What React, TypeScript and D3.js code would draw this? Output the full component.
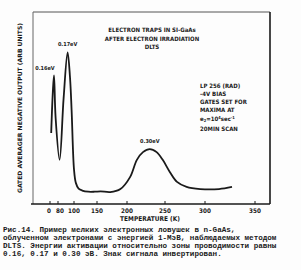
import React from "react";
import * as d3 from "d3";

// x-axis tick values (temperature, K) and labels as printed
const xTickValues = [0, 80, 100, 150, 200, 250, 300, 350];
const xTickLabels = ["0", "80", "100", "150", "200", "250", "300", "350"];

// DLTS spectrum: temperature (K) and signal (arb. units)
const tempK = [12, 28, 40, 56, 82, 87, 92, 95, 97, 100, 104, 110, 118, 131, 145, 156, 172, 189, 204, 213, 221, 230, 239, 247, 256, 265, 277, 294, 314, 327];
const signal = [37, 58, 67, 45, 23, 55, 79, 66, 49, 18, 11, 8, 7, 6.4, 6.4, 6.6, 6.2, 7.8, 14, 23, 27, 28.6, 27, 23, 16.7, 11.5, 8.9, 7.8, 7.8, 8.9];

// peak annotations
const peakLabels = ["0.16eV", "0.17eV", "0.30eV"];
const peakTemps = [40, 92, 230];
const peakValues = [67, 79, 28.6];

const titleLines = ["ELECTRON TRAPS IN SI-GaAs", "AFTER ELECTRON IRRADIATION", "DLTS"];
const captionLines = [
  "Рис.14. Пример мелких электронных ловушек в n-GaAs,",
  "облученном электронами с энергией 1-МэВ, наблюдаемых методом",
  "DLTS. Энергии активации относительно зоны проводимости равны",
  "0.16, 0.17 и 0.30 эВ. Знак сигнала инвертирован.",
];

export default function App() {
  const W = 301, H = 270;
  const left = 33, right = 270, top = 12, bottom = 204;
  // the printed axis is not uniform; piecewise-linear scale through the tick marks
  const x = d3.scaleLinear().domain(xTickValues).range([50, 58, 74, 97, 127, 165, 205, 255]);
  const y = d3.scaleLinear().domain([0, 100]).range([bottom, top]);
  const pts: [number, number][] = tempK.map((t, i) => [t, signal[i]]);
  const line = d3.line<[number, number]>().x(d => x(d[0])).y(d => y(d[1])).curve(d3.curveCatmullRom.alpha(0.5));
  const small = "'DejaVu Sans Condensed', 'DejaVu Sans', sans-serif";
  const ink = "#1a1a1a";
  const labelOffsets: [number, number][] = [[-9, -5], [0, -6], [0, -6]];
  return (
    <svg width={W} height={H} style={{ position: "absolute", left: 0, top: 0, background: "#fff" }}>
      <rect x={0} y={0} width={W} height={H} fill="#fdfdfd" />
      {/* frame */}
      <line x1={left} y1={top} x2={right} y2={top} stroke="#555" strokeWidth={1} />
      <line x1={left} y1={top} x2={left} y2={bottom} stroke="#666" strokeWidth={1} />
      <line x1={right} y1={top} x2={right} y2={bottom} stroke={ink} strokeWidth={1.6} />
      <line x1={left - 2} y1={bottom} x2={right} y2={bottom} stroke={ink} strokeWidth={1.4} />
      {xTickValues.map((v, i) => (
        <g key={i}>
          <line x1={x(v)} x2={x(v)} y1={bottom} y2={bottom - 3} stroke={ink} strokeWidth={1} />
          <text x={x(v) + (i === 0 ? -1 : i === 1 ? 2 : 0)} y={213} fontSize={6.3} fontFamily={small} fontWeight="bold" textAnchor="middle" fill={ink}>{xTickLabels[i]}</text>
        </g>
      ))}
      <text x={150} y={221} fontSize={6.5} fontFamily={small} fontWeight="bold" textAnchor="middle" fill={ink}>TEMPERATURE (K)</text>
      <text transform="translate(22,108) rotate(-90)" fontSize={6} fontFamily={small} fontWeight="bold" textAnchor="middle" fill={ink} textLength={170} lengthAdjust="spacingAndGlyphs">GATED AVERAGER NEGATIVE OUTPUT (ARB UNITS)</text>
      {/* curve */}
      <path d={line(pts) || ""} fill="none" stroke={ink} strokeWidth={1.8} strokeLinejoin="round" />
      {peakLabels.map((s, i) => (
        <text key={s} x={x(peakTemps[i]) + labelOffsets[i][0]} y={y(peakValues[i]) + labelOffsets[i][1]} fontSize={5.5} fontFamily={small} fontWeight="bold" textAnchor="middle" fill={ink}>{s}</text>
      ))}
      {titleLines.map((s, i) => (
        <text key={s} x={152} y={32 + i * 8.5} fontSize={6} fontFamily={small} fontWeight="bold" textAnchor="middle" fill={ink}>{s}</text>
      ))}
      {/* conditions */}
      <g fontSize={6} fontFamily={small} fontWeight="bold" fill={ink}>
        <text x={200} y={88}>LP 256 (RAD)</text>
        <text x={200} y={96}>-4V BIAS</text>
        <text x={200} y={104}>GATES SET FOR</text>
        <text x={200} y={112}>MAXIMA AT</text>
        <text x={200} y={121}>e<tspan fontSize={4} dy={1}>2</tspan><tspan dy={-1}>=10</tspan><tspan fontSize={4} dy={-2}>4</tspan><tspan dy={2}>sec</tspan><tspan fontSize={4} dy={-2}>-1</tspan></text>
        <text x={200} y={131}>20MIN SCAN</text>
      </g>
      {captionLines.map((s, i) => (
        <text key={i} x={3} y={232 + i * 8} fontSize={7.6} fontFamily="'Liberation Mono', 'DejaVu Sans Mono', monospace" fontWeight="bold" fill={ink}>{s}</text>
      ))}
    </svg>
  );
}
